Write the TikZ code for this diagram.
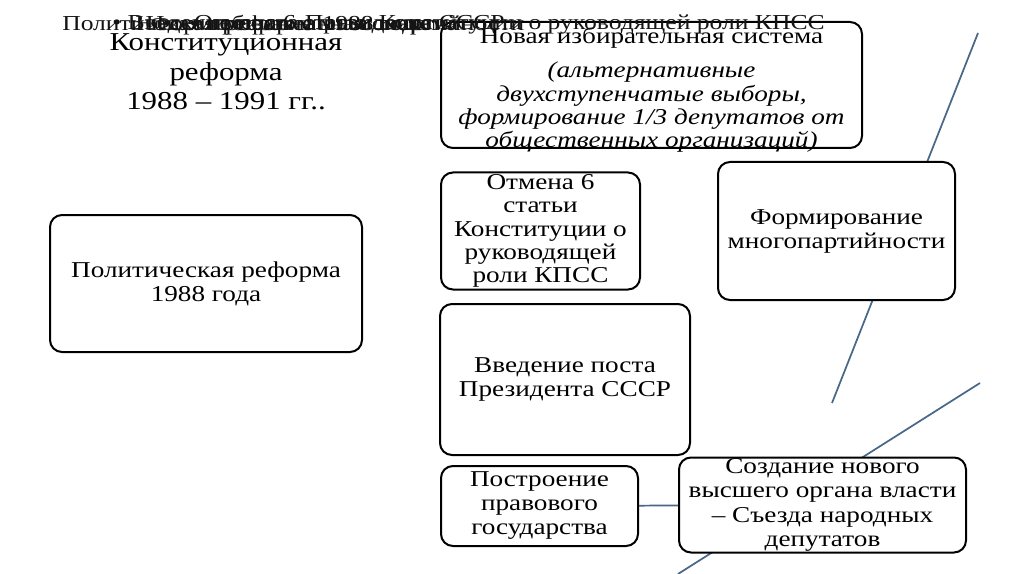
\documentclass[tikz,border=0pt]{standalone}
\usepackage{fontspec}
\setmainfont[FakeStretch=1.2]{Liberation Serif}
\definecolor{lineblue}{RGB}{72,104,136}
\definecolor{garble}{RGB}{20,20,20}
\usetikzlibrary{positioning}

\begin{document}
\begin{tikzpicture}[x=0.75pt,y=-0.75pt,
  box/.style={draw,line width=1.5pt,rounded corners=9pt,fill=white,align=center,inner sep=0pt,font=\fontsize{17}{18}\selectfont},
  stroke/.style={lineblue,line width=1.3pt},
  head/.style={font=\fontsize{16}{17}\selectfont,garble,inner sep=0pt}]
  \useasboundingbox[fill=white] (0,0) rectangle (1024,574);
  % background lines
  \coordinate (s1a) at (978,33);
  \coordinate (s1b) at (832,403);
  \coordinate (s2a) at (980,383);
  \coordinate (s2b) at (678,574);
  \draw[stroke] (s1a)--(s1b);
  \draw[stroke] (s2a)--(s2b);
  \node[align=center,font=\fontsize{19.3}{22}\selectfont,inner sep=0pt] (title) at (226,72) {Конституционная\\реформа\\1988 -- 1991 гг..};
  % boxes
  \node[box,minimum width=234pt,minimum height=102.75pt] (pol) at (206,283.5) {Политическая реформа\\1988 года};
  \node[box,minimum width=315.75pt,minimum height=94.5pt] (elect) at (651.5,85) {};
  \node[align=center,inner sep=0pt,font=\fontsize{17}{17.4}\selectfont] (electtext) at (651.5,90) {Новая избирательная система\\[8pt]\itshape(альтернативные\\\itshape двухступенчатые выборы,\\\itshape формирование 1/3 депутатов от\\\itshape общественных организаций)};
  \node[box,minimum width=149.25pt,minimum height=87.75pt,font=\fontsize{17}{17.4}\selectfont] (art6) at (540.5,231) {Отмена 6\\статьи\\Конституции о\\руководящей\\роли КПСС};
  \node[box,minimum width=187.5pt,minimum height=113.25pt] (pres) at (565,379.5) {Введение поста\\Президента СССР};
  \node[box,minimum width=177.75pt,minimum height=103.5pt] (multi) at (836.5,231) {Формирование\\многопартийности};
  \node[box,minimum width=147.75pt,minimum height=60pt] (law) at (539.5,506) {Построение\\правового\\государства};
  \node[box,minimum width=215.25pt,minimum height=71.25pt,font=\fontsize{17}{18.3}\selectfont] (cong) at (822.5,505) {Создание нового\\высшего органа власти\\-- Съезда народных\\депутатов};
  \draw[stroke] (law)--(cong);
  % overlapping title placeholders
  \node[head,anchor=west] (h1) at (62,25) {Политическая реформа 1988 года};
  \node[head,anchor=west] (h2) at (112,25) {• Введение поста Президента СССР};
  \node[head,anchor=west] (h3) at (135,25) {Новая избирательная система};
  \node[head,anchor=west] (h4) at (150,25) {Формирование многопартийности};
  \node[head,anchor=east] (h5) at (825,25) {Отмена 6 статьи Конституции о руководящей роли КПСС};
\end{tikzpicture}
\end{document}
